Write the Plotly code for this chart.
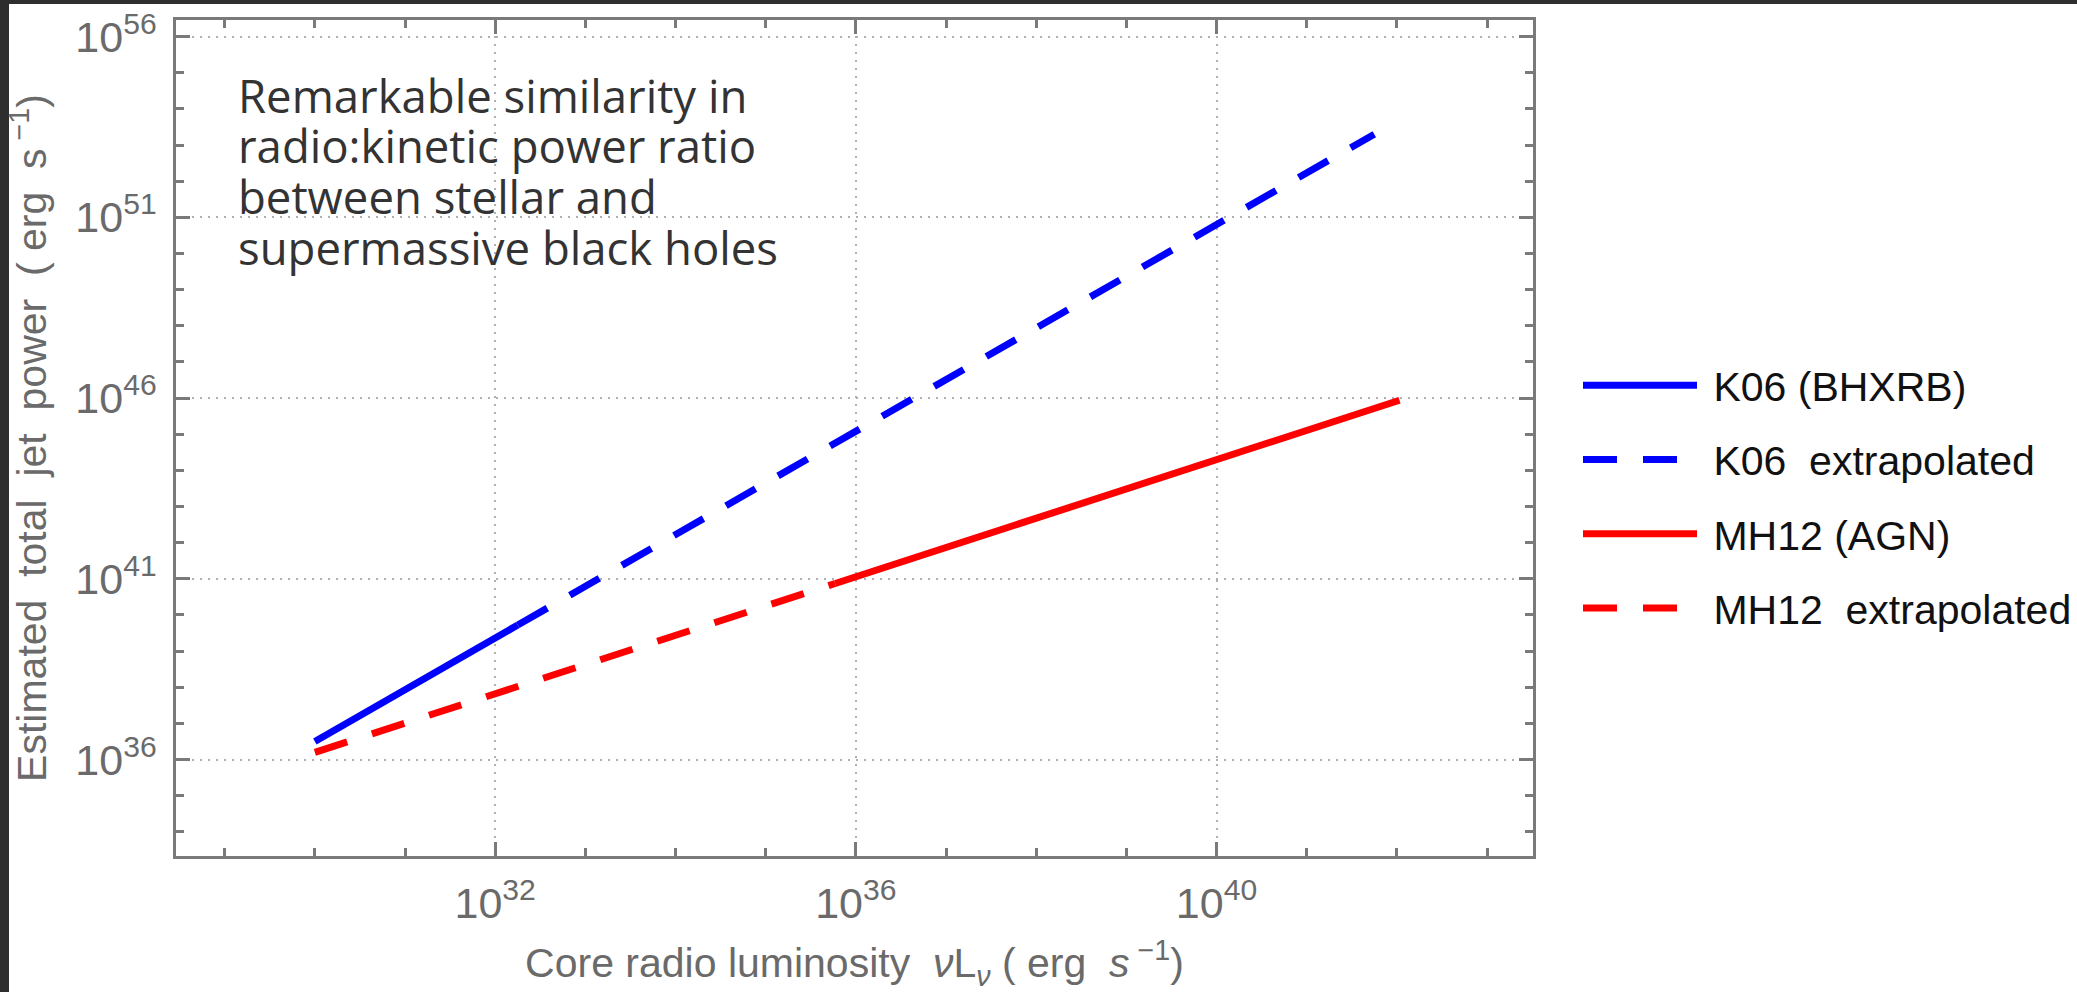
import plotly.graph_objects as go

# ---- data ----
k06_solid_x = [1.0e30, 1.78e32]
k06_solid_y = [3.16e36, 5.25e39]
k06_ext_x = [1.78e32, 5.62e41]
k06_ext_y = [5.25e39, 2.0e53]
mh12_solid_x = [5.9e35, 1.07e42]
mh12_solid_y = [7.4e40, 8.7e45]
mh12_ext_x = [1.0e30, 5.9e35]
mh12_ext_y = [1.58e36, 7.4e40]

x_major = [1e32, 1e36, 1e40]
x_major_text = ["10<sup>32</sup>", "10<sup>36</sup>", "10<sup>40</sup>"]
x_minor = [1e29, 1e30, 1e31, 1e33, 1e34, 1e35, 1e37, 1e38, 1e39, 1e41, 1e42, 1e43]
y_major = [1e36, 1e41, 1e46, 1e51, 1e56]
y_major_text = ["10<sup>36</sup>", "10<sup>41</sup>", "10<sup>46</sup>", "10<sup>51</sup>", "10<sup>56</sup>"]
y_minor = [1e34, 1e35, 1e37, 1e38, 1e39, 1e40, 1e42, 1e43, 1e44, 1e45,
           1e47, 1e48, 1e49, 1e50, 1e52, 1e53, 1e54, 1e55]

names = ["K06 (BHXRB)", "K06  extrapolated", "MH12 (AGN)", "MH12  extrapolated"]
note_lines = ["Remarkable similarity in", "radio:kinetic power ratio",
              "between stellar and", "supermassive black holes"]

W, H = 2077, 992
ML, MR, MT, MB = 176, 544, 20, 136
DASH = "34px,26px"
LW = 7
SANS = "Liberation Sans Narrow, Liberation Sans, Arial"

fig = go.Figure()
fig.add_trace(go.Scatter(x=k06_solid_x, y=k06_solid_y, mode="lines", name=" " + names[0],
                         line=dict(color="#0000ff", width=LW), legendgroup="a"))
fig.add_trace(go.Scatter(x=k06_ext_x, y=k06_ext_y, mode="lines", name=" " + names[1],
                         line=dict(color="#0000ff", width=LW, dash=DASH), legendgroup="b"))
fig.add_trace(go.Scatter(x=mh12_solid_x, y=mh12_solid_y, mode="lines", name=" " + names[2],
                         line=dict(color="#ff0000", width=LW), legendgroup="c"))
fig.add_trace(go.Scatter(x=mh12_ext_x, y=mh12_ext_y, mode="lines", name=" " + names[3],
                         line=dict(color="#ff0000", width=LW, dash=DASH), legendgroup="d"))

axis_common = dict(
    type="log", showline=True, linecolor="#7a7a7a", linewidth=2.5, mirror="allticks",
    ticks="inside", ticklen=14, tickwidth=2.5, tickcolor="#7a7a7a",
    showgrid=True, gridcolor="#b0b0b0", gridwidth=2, griddash="2px,6px",
    zeroline=False,
    tickfont=dict(family=SANS, size=43, color="#6a6a6a"),
    title_font=dict(family=SANS, size=41, color="#6a6a6a"),
)

fig.update_xaxes(
    **axis_common, range=[28.46, 43.51], tickmode="array", tickvals=x_major, ticktext=x_major_text,
    minor=dict(tickmode="array", tickvals=x_minor, ticks="inside", ticklen=8, tickwidth=2.5,
               tickcolor="#7a7a7a", showgrid=False),
    ticklabelstandoff=8,
    title=dict(text="Core radio luminosity  <i>ν</i>L<sub><i>ν</i></sub> ( erg  <i>s</i><sup> −1</sup>)", standoff=24),
)
fig.update_yaxes(
    **axis_common, range=[33.33, 56.46], tickmode="array", tickvals=y_major, ticktext=y_major_text,
    minor=dict(tickmode="array", tickvals=y_minor, ticks="inside", ticklen=8, tickwidth=2.5,
               tickcolor="#7a7a7a", showgrid=False),
    ticklabelstandoff=8,
    title=dict(text="Estimated  total  jet  power  ( erg  s<sup> −1</sup>)", standoff=16),
)

pw, ph = W - ML - MR, H - MT - MB
line_centers_px = [95, 145, 196, 247]
for txt, yc in zip(note_lines, line_centers_px):
    fig.add_annotation(
        xref="paper", yref="paper", x=(236 - ML) / pw, y=(H - MB - yc) / ph,
        xanchor="left", yanchor="middle", align="left", showarrow=False,
        text=txt, font=dict(family="Open Sans", size=45.5, color="#333333"),
    )

# dark screenshot border strips (left and top)
fig.add_shape(type="rect", xref="paper", yref="paper", x0=-ML / pw, x1=(9 - ML) / pw,
              y0=-MB / ph, y1=(H - MB) / ph, fillcolor="#2e2e2e", line_width=0, layer="above")
fig.add_shape(type="rect", xref="paper", yref="paper", x0=-ML / pw, x1=(W - ML) / pw,
              y0=(H - MB - 4) / ph, y1=(H - MB) / ph, fillcolor="#2e2e2e", line_width=0, layer="above")

fig.update_layout(
    width=W, height=H, margin=dict(l=ML, r=MR, t=MT, b=MB, autoexpand=False),
    paper_bgcolor="white", plot_bgcolor="white",
    showlegend=True,
    legend=dict(x=(1578 - ML) / pw, y=(H - MB - 352) / ph, xanchor="left", yanchor="top",
                font=dict(family=SANS, size=41, color="#111111"),
                itemwidth=114, tracegroupgap=18, bgcolor="rgba(0,0,0,0)"),
)

fig.write_html("out.html", config={"displayModeBar": False},
               post_script="document.body.style.margin='0';document.body.style.overflow='hidden';")
